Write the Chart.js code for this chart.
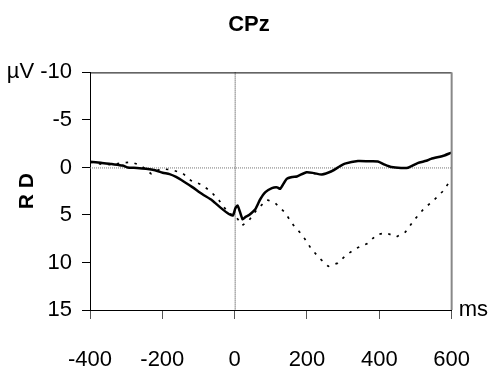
<!DOCTYPE html>
<html>
<head>
<meta charset="utf-8">
<script src="https://cdn.jsdelivr.net/npm/chart.js@4/dist/chart.umd.min.js"></script>
<style>
  html, body { margin: 0; padding: 0; background: #fff; }
  #wrap { width: 498px; height: 376px; }
</style>
</head>
<body>
<div id="wrap"><canvas id="erpChart" width="498" height="376"></canvas></div>
<script>
// Data (ms vs µV, y axis negative up)
const solidTimes = [-400, -370, -340, -310, -296, -270, -245, -220, -199, -180, -162, -140, -117, -90, -62, -40, -16, -5, 2, 8, 14, 22, 30, 40, 57, 70, 85, 103, 118, 126, 144, 160, 172, 199, 220, 241, 268, 290, 305, 341, 370, 396, 415, 433, 460, 479, 506, 530, 543, 580, 598, 600];
const solidValues = [-0.6, -0.5, -0.35, -0.2, 0.0, 0.05, 0.14, 0.3, 0.56, 0.7, 1.0, 1.5, 2.07, 2.8, 3.47, 4.2, 4.9, 5.05, 4.3, 4.0, 4.6, 5.45, 5.2, 5.0, 4.4, 3.4, 2.6, 2.18, 2.1, 2.25, 1.2, 1.0, 0.95, 0.5, 0.6, 0.74, 0.4, -0.1, -0.4, -0.67, -0.65, -0.63, -0.3, -0.05, 0.05, 0.03, -0.46, -0.7, -0.9, -1.26, -1.54, -1.55];

const dottedTimes = [-400, -365, -341, -314, -286, -259, -231, -204, -174, -144, -121, -91, -66, -43, -16, 0, 21, 39, 60, 89, 112, 138, 163, 188, 209, 233, 259, 285, 309, 337, 367, 394, 419, 447, 472, 497, 523, 550, 575, 598, 600];
const dottedValues = [-0.56, -0.32, -0.3, -0.46, -0.56, -0.2, 0.67, 0.14, 0.25, 0.6, 1.37, 1.83, 2.53, 3.47, 4.87, 5.0, 6.1, 5.6, 4.5, 3.4, 3.75, 4.7, 6.1, 7.16, 8.4, 9.5, 10.4, 10.07, 9.2, 8.5, 8.0, 7.05, 6.9, 7.3, 6.8, 5.5, 4.35, 3.47, 2.53, 1.3, 1.2];

const xTicks = [-400, -200, 0, 200, 400, 600];
const yTicks = [-10, -5, 0, 5, 10, 15];

const sans = "'Liberation Sans', Arial, sans-serif";

// zero lines, plot frame and the "ms" unit
const framePlugin = {
  id: "frame",
  beforeDatasetsDraw(chart) {
    const { ctx, chartArea: a, scales } = chart;
    const x0 = scales.x.getPixelForValue(0);
    const y0 = scales.y.getPixelForValue(0);
    ctx.save();
    ctx.lineWidth = 1;
    ctx.setLineDash([1, 1]);
    ctx.strokeStyle = "#777";
    ctx.beginPath();
    ctx.moveTo(a.left, y0 + 0.5);
    ctx.lineTo(a.right, y0 + 0.5);
    ctx.stroke();
    ctx.strokeStyle = "#333";
    ctx.beginPath();
    ctx.moveTo(x0 + 0.5, a.top);
    ctx.lineTo(x0 + 0.5, a.bottom);
    ctx.stroke();
    ctx.restore();
  },
  afterDraw(chart) {
    const { ctx, chartArea: a } = chart;
    ctx.save();
    ctx.strokeStyle = "#000";
    ctx.lineWidth = 1;
    ctx.beginPath();
    ctx.moveTo(a.left, a.top + 0.5);
    ctx.lineTo(a.right, a.top + 0.5);
    ctx.stroke();
    ctx.strokeStyle = "#888";
    ctx.lineWidth = 2;
    ctx.beginPath();
    ctx.moveTo(a.right, a.top);
    ctx.lineTo(a.right, a.bottom);
    ctx.stroke();
    ctx.fillStyle = "#000";
    ctx.font = "22px " + sans;
    ctx.textAlign = "left";
    ctx.textBaseline = "middle";
    ctx.fillText("ms", a.right + 7, a.bottom);
    ctx.restore();
  }
};

const ctx = document.getElementById("erpChart").getContext("2d");
const chart = new Chart(ctx, {
  type: "line",
  data: {
    datasets: [
      {
        label: "solid",
        data: solidTimes.map((t, i) => ({ x: t, y: solidValues[i] })),
        borderColor: "#000",
        borderWidth: 2.5,
        pointRadius: 0,
        tension: 0.2,
        fill: false
      },
      {
        label: "dotted",
        data: dottedTimes.map((t, i) => ({ x: t, y: dottedValues[i] })),
        borderColor: "#000",
        borderWidth: 1.7,
        borderDash: [2.5, 6.5],
        pointRadius: 0,
        tension: 0,
        fill: false
      }
    ]
  },
  options: {
    responsive: false,
    animation: false,
    layout: { padding: 0 },
    plugins: {
      legend: { display: false },
      tooltip: { enabled: false },
      title: {
        display: true,
        text: "CPz",
        color: "#000",
        font: { family: sans, size: 22, weight: "bold" },
        padding: { top: 12, bottom: 34 }
      }
    },
    scales: {
      x: {
        type: "linear",
        min: -400,
        max: 600,
        afterBuildTicks: s => { s.ticks = xTicks.map(v => ({ value: v })); },
        afterFit: s => { s.height = 66; },
        ticks: {
          color: "#000",
          font: { family: sans, size: 22 },
          padding: 28,
          maxRotation: 0
        },
        grid: { drawOnChartArea: false, tickLength: 9, color: "#555" },
        border: { color: "#000", width: 1 }
      },
      y: {
        reverse: true,
        min: -10,
        max: 15,
        afterBuildTicks: s => { s.ticks = yTicks.map(v => ({ value: v })); },
        afterFit: s => { s.width = 90; },
        ticks: {
          color: "#000",
          font: { family: sans, size: 22 },
          padding: 10,
          callback: v => (v === -10 ? "µV -10" : String(v))
        },
        grid: { drawOnChartArea: false, tickLength: 8, color: "#000" },
        border: { color: "#000", width: 1 },
        title: {
          display: true,
          text: "R D",
          color: "#000",
          font: { family: sans, size: 21, weight: "bold" },
          padding: { top: 15, bottom: 0 }
        }
      },
      // empty right-hand scale, only keeps room for the "ms" unit
      yRight: {
        position: "right",
        min: 0,
        max: 1,
        afterFit: s => { s.width = 43; },
        ticks: { display: false },
        grid: { display: false },
        border: { display: false }
      }
    }
  },
  plugins: [framePlugin]
});
</script>
</body>
</html>
